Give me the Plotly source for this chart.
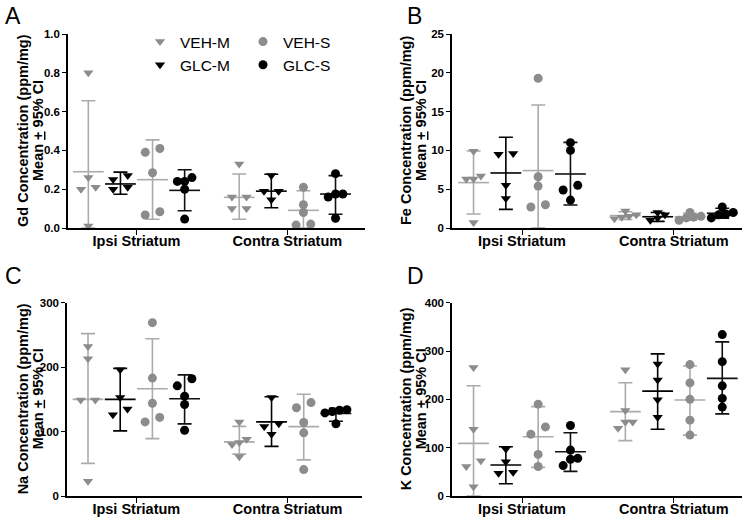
import plotly.graph_objects as go

groups = ["VEH-M", "GLC-M", "VEH-S", "GLC-S"]
categories = ["Ipsi Striatum", "Contra Striatum"]

# ---------------- Panel A : Gd ----------------
gd_ipsi = {"VEH-M": [0.80, 0.26, 0.21, 0.20, 0.01],
           "GLC-M": [0.27, 0.25, 0.21, 0.20],
           "VEH-S": [0.41, 0.39, 0.285, 0.084, 0.067],
           "GLC-S": [0.26, 0.24, 0.24, 0.20, 0.046]}
gd_contra = {"VEH-M": [0.33, 0.16, 0.16, 0.10, 0.10],
             "GLC-M": [0.27, 0.19, 0.19, 0.145],
             "VEH-S": [0.21, 0.12, 0.08, 0.02, 0.015],
             "GLC-S": [0.28, 0.175, 0.175, 0.16, 0.05]}
gd_mean = {"VEH-M": [0.29, 0.158], "GLC-M": [0.227, 0.19], "VEH-S": [0.249, 0.091], "GLC-S": [0.194, 0.175]}
gd_lo = {"VEH-M": [0.0, 0.045], "GLC-M": [0.174, 0.104], "VEH-S": [0.045, 0.0], "GLC-S": [0.089, 0.071]}
gd_hi = {"VEH-M": [0.656, 0.278], "GLC-M": [0.288, 0.277], "VEH-S": [0.454, 0.192], "GLC-S": [0.30, 0.27]}
gd_ticks = [0.0, 0.2, 0.4, 0.6, 0.8, 1.0]

# ---------------- Panel B : Fe ----------------
fe_ipsi = {"VEH-M": [9.9, 6.7, 6.3, 6.3, 0.7],
           "GLC-M": [9.6, 9.5, 5.5, 3.8],
           "VEH-S": [19.3, 6.6, 5.4, 3.0, 2.7],
           "GLC-S": [11.0, 10.0, 5.5, 4.9, 3.6]}
fe_contra = {"VEH-M": [2.2, 1.7, 1.5, 1.4, 1.2],
             "GLC-M": [2.0, 1.7, 1.3, 1.0],
             "VEH-S": [2.0, 1.5, 1.4, 1.3, 1.0],
             "GLC-S": [2.7, 2.0, 1.8, 1.7, 1.3]}
fe_mean = {"VEH-M": [5.85, 1.6], "GLC-M": [7.09, 1.45], "VEH-S": [7.4, 1.45], "GLC-S": [6.96, 1.9]}
fe_lo = {"VEH-M": [1.8, 1.1], "GLC-M": [2.4, 0.85], "VEH-S": [0.0, 1.0], "GLC-S": [2.96, 1.25]}
fe_hi = {"VEH-M": [9.92, 2.1], "GLC-M": [11.7, 2.0], "VEH-S": [15.85, 1.9], "GLC-S": [11.04, 2.55]}
fe_ticks = [0, 5, 10, 15, 20, 25]

# ---------------- Panel C : Na ----------------
na_ipsi = {"VEH-M": [232, 213, 149, 149, 23],
           "GLC-M": [196, 153, 135, 126],
           "VEH-S": [269, 183, 144, 122, 115],
           "GLC-S": [182, 171, 155, 142, 102]}
na_contra = {"VEH-M": [115, 88, 83, 80, 61],
             "GLC-M": [153, 112, 108, 96],
             "VEH-S": [145, 137, 114, 98, 41],
             "GLC-S": [134, 133, 131, 129, 112]}
na_mean = {"VEH-M": [150, 84], "GLC-M": [150, 115], "VEH-S": [166.5, 107.6], "GLC-S": [151, 128]}
na_lo = {"VEH-M": [50.7, 65], "GLC-M": [101, 77], "VEH-S": [89, 56], "GLC-S": [112, 116]}
na_hi = {"VEH-M": [252, 108], "GLC-M": [198, 154], "VEH-S": [244, 158], "GLC-S": [188, 136]}
na_ticks = [0, 100, 200, 300]

# ---------------- Panel D : K ----------------
k_ipsi = {"VEH-M": [266, 138, 73, 61, 19],
          "GLC-M": [97, 71, 49, 47],
          "VEH-S": [190, 143, 128, 86, 61],
          "GLC-S": [146, 95, 78, 76, 63]}
k_contra = {"VEH-M": [261, 177, 153, 153, 140],
            "GLC-M": [273, 240, 199, 163],
            "VEH-S": [272, 234, 200, 157, 126],
            "GLC-S": [334, 278, 228, 202, 184]}
k_mean = {"VEH-M": [109, 174.5], "GLC-M": [64, 217], "VEH-S": [122.7, 198.6], "GLC-S": [91.7, 243.5]}
k_lo = {"VEH-M": [0, 114.5], "GLC-M": [25.5, 138], "VEH-S": [59.3, 126], "GLC-S": [51, 170]}
k_hi = {"VEH-M": [228, 234.5], "GLC-M": [102, 294], "VEH-S": [185, 269], "GLC-S": [131, 319]}
k_ticks = [0, 100, 200, 300, 400]

# ---------------- styling ----------------
W, H = 745, 520
FONT = "Liberation Sans, Arial, sans-serif"
pt_color = {"VEH-M": "#8c8c8c", "GLC-M": "#000000", "VEH-S": "#8c8c8c", "GLC-S": "#000000"}
bar_color = {"VEH-M": "#ababab", "GLC-M": "#000000", "VEH-S": "#ababab", "GLC-S": "#111111"}
symbol = {"VEH-M": "triangle-down", "GLC-M": "triangle-down", "VEH-S": "circle", "GLC-S": "circle"}
msize = {"VEH-M": 9, "GLC-M": 9, "VEH-S": 9, "GLC-S": 9}
group_off = {"VEH-M": -1.5, "GLC-M": -0.5, "VEH-S": 0.5, "GLC-S": 1.5}
cat_pos = [0.0, 4.7]

panels = [
    dict(ipsi=gd_ipsi, contra=gd_contra, mean=gd_mean, lo=gd_lo, hi=gd_hi, ticks=gd_ticks,
         fmt="{:.1f}", elem="Gd", letter="A", px=(68, 365), py=(34, 228), cx=136.5, sp=32.1,
         title_x=(23, 38)),
    dict(ipsi=fe_ipsi, contra=fe_contra, mean=fe_mean, lo=fe_lo, hi=fe_hi, ticks=fe_ticks,
         fmt="{:d}", elem="Fe", letter="B", px=(452, 742), py=(34, 228), cx=522, sp=32.3,
         title_x=(406, 421)),
    dict(ipsi=na_ipsi, contra=na_contra, mean=na_mean, lo=na_lo, hi=na_hi, ticks=na_ticks,
         fmt="{:d}", elem="Na", letter="C", px=(67, 362), py=(302.7, 496), cx=136.3, sp=32.2,
         title_x=(23, 38)),
    dict(ipsi=k_ipsi, contra=k_contra, mean=k_mean, lo=k_lo, hi=k_hi, ticks=k_ticks,
         fmt="{:d}", elem="K", letter="D", px=(452, 742), py=(302.7, 496), cx=522, sp=32.3,
         title_x=(406, 421)),
]


def swarm(vals, px_per_val, step, thresh_px=7.5):
    order = sorted(range(len(vals)), key=lambda i: vals[i])
    rows = []
    for i in order:
        if rows and (vals[i] - vals[rows[-1][0]]) * px_per_val < thresh_px:
            rows[-1].append(i)
        else:
            rows.append([i])
    offs = [0.0] * len(vals)
    for row in rows:
        n = len(row)
        pos = [-1, 1] if n == 2 else [k - (n - 1) / 2 for k in range(n)]
        for k, i in enumerate(row):
            offs[i] = pos[k] * step
    return offs


fig = go.Figure()
layout = {}
annotations = []

for pi, p in enumerate(panels):
    n = pi + 1
    xa = "x" if n == 1 else f"x{n}"
    ya = "y" if n == 1 else f"y{n}"
    ymax = p["ticks"][-1]
    plot_h = p["py"][1] - p["py"][0]
    px_per_val = plot_h / ymax
    step = 7.3 / p["sp"]

    # mean + 95% CI
    for g in groups:
        xs = [c + group_off[g] for c in cat_pos]
        m = p["mean"][g]
        fig.add_trace(go.Scatter(
            x=xs, y=m, xaxis=xa, yaxis=ya, mode="markers", showlegend=False, hoverinfo="skip",
            marker=dict(symbol="line-ew", size=22, color=bar_color[g],
                        line=dict(width=1.6, color=bar_color[g])),
            error_y=dict(type="data", symmetric=False,
                         array=[h - v for h, v in zip(p["hi"][g], m)],
                         arrayminus=[v - l for v, l in zip(m, p["lo"][g])],
                         width=7, thickness=1.6, color=bar_color[g]),
        ))
    # points
    for g in groups:
        xs, ys = [], []
        for ci, src in enumerate([p["ipsi"], p["contra"]]):
            vals = src[g]
            offs = swarm(vals, px_per_val, step)
            xs += [cat_pos[ci] + group_off[g] + o for o in offs]
            ys += vals
        show = (n == 1)
        fig.add_trace(go.Scatter(
            x=xs, y=ys, xaxis=xa, yaxis=ya, mode="markers", name=g,
            showlegend=show, legend=("legend" if g.endswith("M") else "legend2"),
            cliponaxis=False,
            marker=dict(symbol=symbol[g], size=msize[g], color=pt_color[g], line=dict(width=0)),
        ))

    x0, x1 = p["px"]
    y0, y1 = p["py"]
    xr0 = (x0 - p["cx"]) / p["sp"]
    xr1 = (x1 - p["cx"]) / p["sp"]
    layout["xaxis" if n == 1 else f"xaxis{n}"] = dict(
        domain=[x0 / W, x1 / W], range=[xr0, xr1], anchor=ya,
        tickvals=cat_pos, ticktext=categories, showline=True, linecolor="#000", linewidth=1.5,
        ticks="outside", ticklen=5, tickwidth=1.3, tickcolor="#000", ticklabelstandoff=-6,
        tickfont=dict(family=FONT, size=14.5, color="#000", weight="bold"),
        showgrid=False, zeroline=False, automargin=False, fixedrange=True)
    layout["yaxis" if n == 1 else f"yaxis{n}"] = dict(
        domain=[1 - y1 / H, 1 - y0 / H], range=[0, ymax], anchor=xa,
        tickvals=p["ticks"], ticktext=[p["fmt"].format(t) for t in p["ticks"]],
        showline=True, linecolor="#000", linewidth=1.5,
        ticks="outside", ticklen=4, tickwidth=1.3, tickcolor="#000",
        tickfont=dict(family=FONT, size=11.5, color="#000", weight="bold"),
        showgrid=False, zeroline=False, automargin=False, fixedrange=True)

    yc = 1 - (y0 + y1) / 2 / H
    annotations.append(dict(text=f"{p['elem']} Concentration (ppm/mg)", x=p["title_x"][0] / W, y=yc,
                            xref="paper", yref="paper", textangle=-90, showarrow=False,
                            xanchor="center", yanchor="middle",
                            font=dict(family=FONT, size=14.5, color="#000", weight="bold")))
    annotations.append(dict(text="Mean <u>+</u> 95% CI", x=p["title_x"][1] / W, y=yc,
                            xref="paper", yref="paper", textangle=-90, showarrow=False,
                            xanchor="center", yanchor="middle",
                            font=dict(family=FONT, size=14.5, color="#000", weight="bold")))
    lx = 3 if n in (1, 3) else 405
    ly = 1 if n in (1, 2) else 261
    annotations.append(dict(text=p["letter"], x=lx / W, y=1 - ly / H, xref="paper", yref="paper",
                            showarrow=False, xanchor="left", yanchor="top",
                            font=dict(family=FONT, size=23, color="#000")))

fig.update_layout(
    width=W, height=H, margin=dict(l=0, r=0, t=0, b=0),
    paper_bgcolor="white", plot_bgcolor="white",
    showlegend=True,
    legend=dict(x=140 / W, y=1 - 25 / H, xanchor="left", yanchor="top", orientation="v",
                bgcolor="rgba(0,0,0,0)", font=dict(family=FONT, size=15.5, color="#000"),
                traceorder="normal", tracegroupgap=0),
    legend2=dict(x=243 / W, y=1 - 25 / H, xanchor="left", yanchor="top", orientation="v",
                 bgcolor="rgba(0,0,0,0)", font=dict(family=FONT, size=15.5, color="#000"),
                 traceorder="normal", tracegroupgap=0),
    annotations=annotations,
    **layout,
)

fig.write_html("out.html", config={"displayModeBar": False},
               post_script="document.body.style.margin='0';document.body.style.padding='0';")
